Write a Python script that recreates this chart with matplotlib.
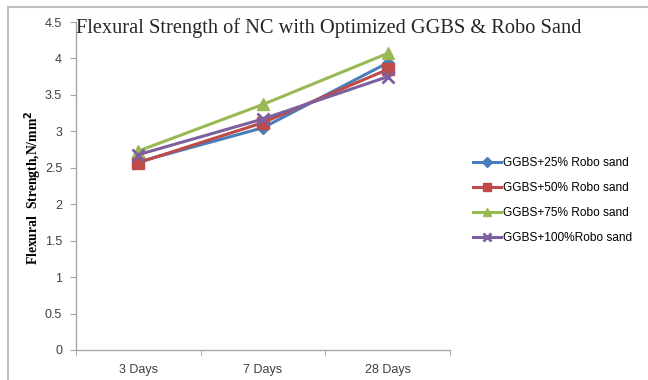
import numpy as np
import matplotlib.pyplot as plt
from matplotlib.lines import Line2D

days = ['3 Days', '7 Days', '28 Days']
mix_25 = [2.58, 3.05, 3.94]
mix_50 = [2.57, 3.12, 3.85]
mix_75 = [2.73, 3.37, 4.07]
mix_100 = [2.68, 3.17, 3.75]
y_ticks = [0, 0.5, 1, 1.5, 2, 2.5, 3, 3.5, 4, 4.5]

series = [
    ('GGBS+25% Robo sand', mix_25, '#4A7EBB', 'D', 6),
    ('GGBS+50% Robo sand', mix_50, '#BE4B48', 's', 8),
    ('GGBS+75% Robo sand', mix_75, '#98B954', '^', 8),
    ('GGBS+100%Robo sand', mix_100, '#7D5FA0', 'x', 8),
]

fig = plt.figure(figsize=(6.48, 3.8), dpi=100)
ax = fig.add_axes([0.1173, 0.079, 0.5772, 0.863])

x = np.arange(len(days))
for label, vals, color, marker, ms in series:
    kw = dict(markeredgewidth=2) if marker == 'x' else dict(markeredgecolor=color)
    ax.plot(x, vals, color=color, lw=2.2, marker=marker, markersize=ms,
            label=label, **kw)

ax.set_xlim(-0.5, len(days) - 0.5)
ax.set_ylim(0, 4.5)
ax.set_yticks(y_ticks)
ax.set_yticklabels([f'{v:g}' for v in y_ticks])
ax.set_xticks(x)
ax.set_xticklabels(days)
ax.set_xticks(np.arange(len(days) + 1) - 0.5, minor=True)
ax.tick_params(axis='x', which='major', length=0, pad=10)
ax.tick_params(axis='x', which='minor', length=4, color='#A6A6A6')
ax.tick_params(axis='y', length=4, color='#A6A6A6', pad=6)
for lab in ax.get_xticklabels() + ax.get_yticklabels():
    lab.set_fontfamily('Liberation Sans')
    lab.set_fontsize(9)
    lab.set_color('#404040')

for s in ['top', 'right']:
    ax.spines[s].set_visible(False)
for s in ['left', 'bottom']:
    ax.spines[s].set_color('#A6A6A6')
    ax.spines[s].set_linewidth(1)

fig.text(0.1173, 0.925, 'Flexural Strength of NC with Optimized GGBS & Robo Sand',
         family='Liberation Serif', fontsize=14.7, color='#262626',
         ha='left', va='center')
fig.text(0.052, 0.505, 'Flexural  Strength,N/mm$^{\\mathbf{2}}$', rotation=90,
         family='Liberation Serif', fontweight='bold', fontsize=9.8,
         ha='center', va='center')

handles = [Line2D([], [], color=c, lw=2.2, marker=m, markersize=ms * 0.8,
                  markeredgewidth=2 if m == 'x' else 1, markeredgecolor=c)
           for _, _, c, m, ms in series]
fig.legend(handles, [s[0] for s in series], loc='upper left',
           bbox_to_anchor=(0.713, 0.615), frameon=False, handlelength=2.4,
           handletextpad=0.15, labelspacing=1.1,
           prop={'family': 'Liberation Sans', 'size': 8.6})

# outer frame of the chart area
fig.add_artist(Line2D([0.012, 1.0], [0.981, 0.981], color='#BFBFBF', lw=1.5))
fig.add_artist(Line2D([0.012, 0.012], [0.0, 0.981], color='#BFBFBF', lw=1.5))

fig.savefig('out.png', dpi=100)
plt.close(fig)
